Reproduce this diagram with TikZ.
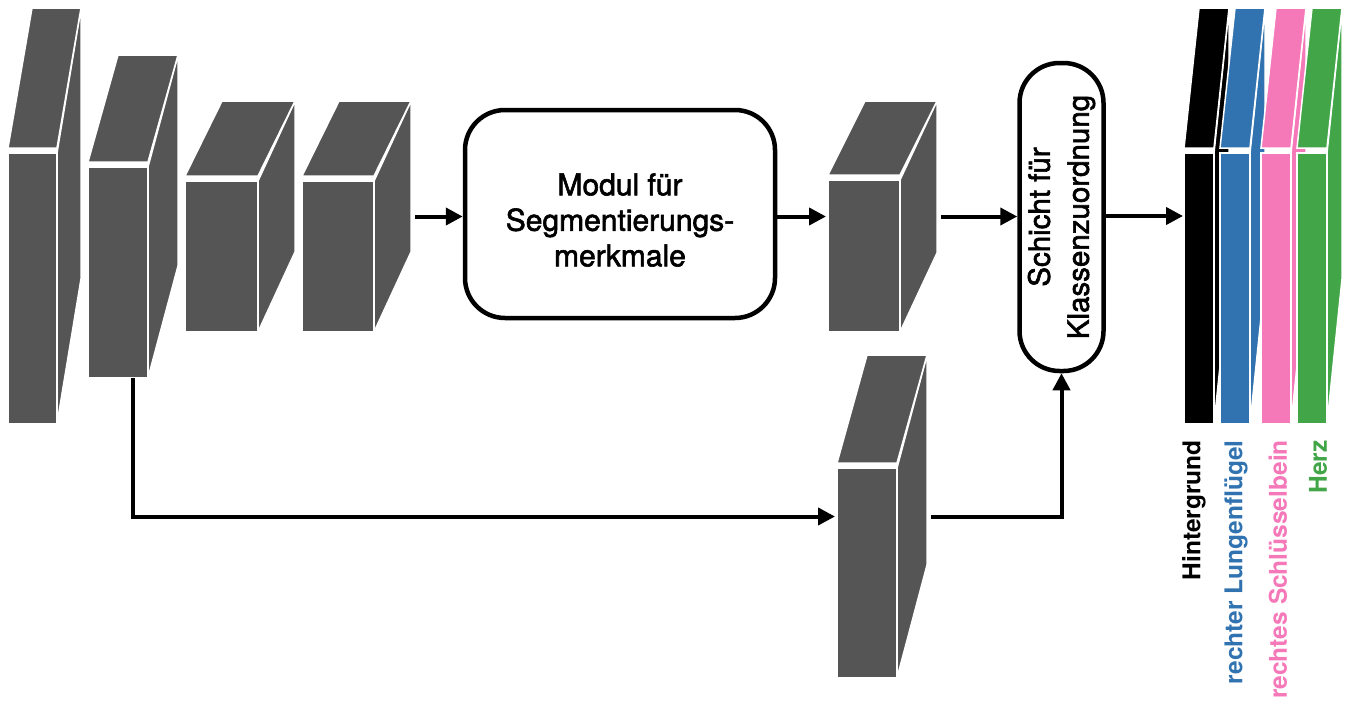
\documentclass[tikz,border=0pt]{standalone}
\usepackage{fontspec}
\setmainfont{TeX Gyre Heros}
\newfontfamily\medfont{TeX Gyre Heros}[FakeBold=2]
\usetikzlibrary{arrows.meta,positioning}
\definecolor{mapgray}{HTML}{555555}
\definecolor{lungblue}{HTML}{3173B0}
\definecolor{bonepink}{HTML}{F578B9}
\definecolor{heartgreen}{HTML}{42A648}

\tikzset{
	face/.style={fill=#1, draw=white, line width=1.5pt},
	front/.style={face=#1, rectangle, inner sep=0pt, outer sep=0pt},
	modul/.style={draw, line width=4.5pt, rounded corners=40pt, align=center, inner sep=0pt},
	flow/.style={line width=4pt, -{Triangle[length=17pt,width=17pt]}},
	classlabel/.style={rotate=90, anchor=east, inner sep=0pt, font=\fontsize{24.5}{30}\selectfont\bfseries},
}

% name, upper left corner of front face, width, height, depth offset, colour
\newcommand{\featmap}[8]{
	\path[face=#8] ({#2+#4},{#3}) -- ({#2+#4+#6},{#3+(#7)}) -- ({#2+#4+#6},{#3+#5+(#7)}) -- ({#2+#4},{#3+#5}) -- cycle;
	\path[face=#8] ({#2},{#3-5}) -- ({#2+#4},{#3-5}) -- ({#2+#4+#6},{#3+(#7)}) -- ({#2+#6},{#3+(#7)}) -- cycle;
	\node[front=#8, minimum width=#4pt, minimum height=#5pt] (#1) at ({#2+#4/2},{#3+#5/2}) {};
	\coordinate (#1-l) at ({#2},{#3+#5/2+(#7)/2});
	\coordinate (#1-r) at ({#2+#4+#6},{#3+#5/2+(#7)/2});
	\coordinate (#1-b) at ({#2+#4/2+#6/2},{#3+#5});
}

\begin{document}
\begin{tikzpicture}[x=1pt, y=-1pt]
	\useasboundingbox (0,0) rectangle (1351,707);

	% encoder
	\featmap{f1}{8}{153}{49}{271}{24}{-145}{mapgray}
	\featmap{f2}{88}{167}{60}{211}{30}{-112}{mapgray}
	\featmap{f3}{185}{181}{73}{151}{37}{-80}{mapgray}
	\featmap{f4}{302}{181}{72}{151}{37}{-80}{mapgray}

	\node[modul, minimum width=310pt, minimum height=208pt] (seg) at (620,214) {};
	\node[align=center, inner sep=0pt, font=\medfont\fontsize{30}{35.5}\selectfont] (seg-text) at (620,220) {Modul für\\Segmentierungs-\\merkmale};

	\featmap{f5}{828}{180}{72}{152}{37}{-79}{mapgray}
	\featmap{f6}{837}{468}{60}{210}{30}{-113}{mapgray}

	\node[modul, minimum width=84pt, minimum height=308pt] (cls) at (1061.5,217) {};
	\node[rotate=90, align=center, inner sep=0pt, font=\medfont\fontsize{29.5}{39}\selectfont] (cls-text) at (cls) {Schicht für\\Klassenzuordnung};

	% output maps
	\foreach \cx/\col/\nm/\txt/\lx in {1184/black/bg/Hintergrund/1194, 1220/lungblue/lung/rechter Lungenflügel/1236, 1261/bonepink/bone/rechtes Schlüsselbein/1278, 1297/heartgreen/heart/Herz/1318} {
		\featmap{\nm}{\cx}{153}{30}{271}{15}{-145}{\col}
		\node[classlabel, text=\col] (\nm-t) at (\lx,440) {\txt};
	}

	\draw[flow, shorten <=4pt] (f4-r) -- (f4-r -| seg.west);
	\draw[flow, shorten >=2pt] (seg.east |- f5-l) -- (f5-l);
	\draw[flow, shorten <=4pt] (f5-r) -- (f5-r -| cls.west);
	\draw[flow, shorten >=1pt] (cls.east |- bg-l) -- (bg-l);
	\draw[flow, shorten >=2pt] (f2-b) |- (f6-l);
	\draw[flow, shorten <=4pt] (f6-r) -| (cls.south);
\end{tikzpicture}
\end{document}
